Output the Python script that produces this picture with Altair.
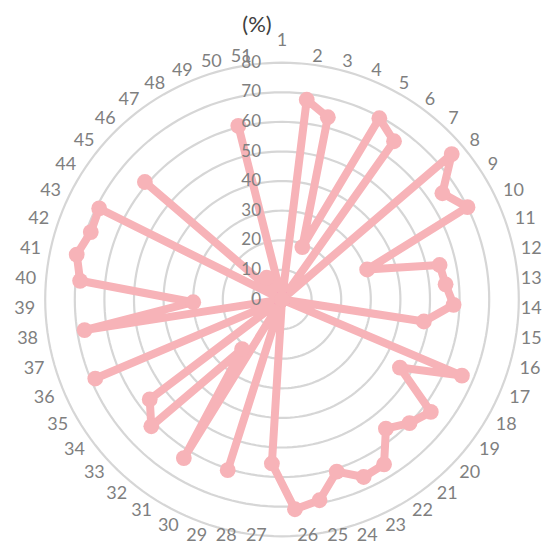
import altair as alt
import pandas as pd
import json

# ---- data ----
categories = list(range(1, 52))
values = [0, 68, 63.5, 19, 69.5, 65.5, 0, 75.5, 65, 70,
          30.5, 54.5, 55.5, 58, 48.5, 0, 66, 46, 63, 60,
          56, 65.5, 66, 61, 69, 71, 55.5, 0, 60.5, 0,
          63, 21.5, 61.5, 56, 0, 68.5, 0, 67.5, 30, 68.5,
          71, 68.5, 69, 0, 61, 0, 9, 0, 0, 60.5, 0]
grid_levels = [10, 20, 30, 40, 50, 60, 70, 80]
tick_values = [0, 10, 20, 30, 40, 50, 60, 70, 80]
unit_label = "(%)"

N = len(categories)

df = pd.DataFrame({"cat": categories, "val": values, "ord": categories})
# close the loop
df_line = pd.concat([df, df.iloc[[0]].assign(ord=N + 1)], ignore_index=True)

# ---- layout (pixel geometry) ----
W, H = 534, 538
CX, CY = 274, 291.5          # centre inside plot area
K = 2.96                     # px per unit
xdom = [-CX / K, (W - CX) / K]
ydom = [-(H - CY) / K, CY / K]

xs = alt.Scale(domain=xdom, range=[0, W], nice=False, zero=False)
ys = alt.Scale(domain=ydom, range=[H, 0], nice=False, zero=False)
X = lambda f: alt.X(f, type="quantitative", scale=xs, axis=None)
Y = lambda f: alt.Y(f, type="quantitative", scale=ys, axis=None)

PINK = "#F7B3B8"
GRID = "#D6D6D6"
TXT = "#7F7F7F"
FONT = "Lato"

theta_expr = f"(datum.cat - 1) * 2 * PI / {N}"

grid = alt.Chart(alt.sequence(0, 362, 2, as_="a")).transform_calculate(
    lv=json.dumps(grid_levels)
).transform_flatten(["lv"]).transform_calculate(
    gx="datum.lv * sin(datum.a * PI / 180)", gy="datum.lv * cos(datum.a * PI / 180)"
).mark_line(color=GRID, strokeWidth=2.2).encode(
    x=X("gx"), y=Y("gy"), detail="lv:N", order="a:Q"
)

line = alt.Chart(df_line).transform_calculate(
    th=theta_expr
).transform_calculate(
    px="datum.val * sin(datum.th)", py="datum.val * cos(datum.th)"
).mark_line(color=PINK, strokeWidth=8, strokeJoin="round", strokeCap="round").encode(
    x=X("px"), y=Y("py"), order="ord:Q"
)

pts = alt.Chart(df).transform_calculate(
    th=theta_expr
).transform_calculate(
    px="datum.val * sin(datum.th)", py="datum.val * cos(datum.th)"
).mark_circle(color=PINK, opacity=1, size=250).encode(
    x=X("px"), y=Y("py")
)

ticks = alt.Chart(pd.DataFrame({"t": tick_values})).mark_text(
    align="right", baseline="middle", dx=-21, font=FONT, fontSize=17, color=TXT
).encode(
    x=alt.X(datum=0, type="quantitative", scale=xs, axis=None),
    y=Y("t"),
    text="t:Q",
)

LR = 83.4          # label anchor radius (units)
XMAX = 80.7        # keep right-hand labels inside the canvas
YMIN = -79.2       # keep bottom labels inside the canvas


def cat_layer(filter_expr, align, dy=2):
    return alt.Chart(df).transform_filter(filter_expr).transform_calculate(
        th=theta_expr
    ).transform_calculate(
        px=f"min({XMAX}, {LR} * sin(datum.th))",
        py=f"max({YMIN}, {LR} * cos(datum.th))",
    ).mark_text(
        align=align, baseline="middle", font=FONT, fontSize=18, color=TXT, dy=dy
    ).encode(
        x=X("px"), y=Y("py"), text="cat:N"
    )


cat_right = cat_layer(f"datum.cat > 1 && datum.cat <= {(N + 1) // 2}", "left")
cat_left = cat_layer(f"datum.cat > {(N + 1) // 2}", "right")
cat_top = cat_layer("datum.cat == 1", "center", dy=-12)

title = alt.Chart(pd.DataFrame({"u": [unit_label]})).mark_text(
    align="center", baseline="middle", font=FONT, fontSize=22, color="#404040",
    dx=-25, dy=17
).encode(
    x=alt.X(datum=0, type="quantitative", scale=xs, axis=None),
    y=alt.Y(datum=ydom[1], type="quantitative", scale=ys, axis=None),
    text="u:N",
)

chart = alt.layer(grid, line, pts, ticks, cat_right, cat_left, cat_top, title).properties(
    width=W, height=H, autosize="none", padding=0
).configure_view(stroke=None)

chart.save("out.html", embed_options={"renderer": "svg", "actions": False})
